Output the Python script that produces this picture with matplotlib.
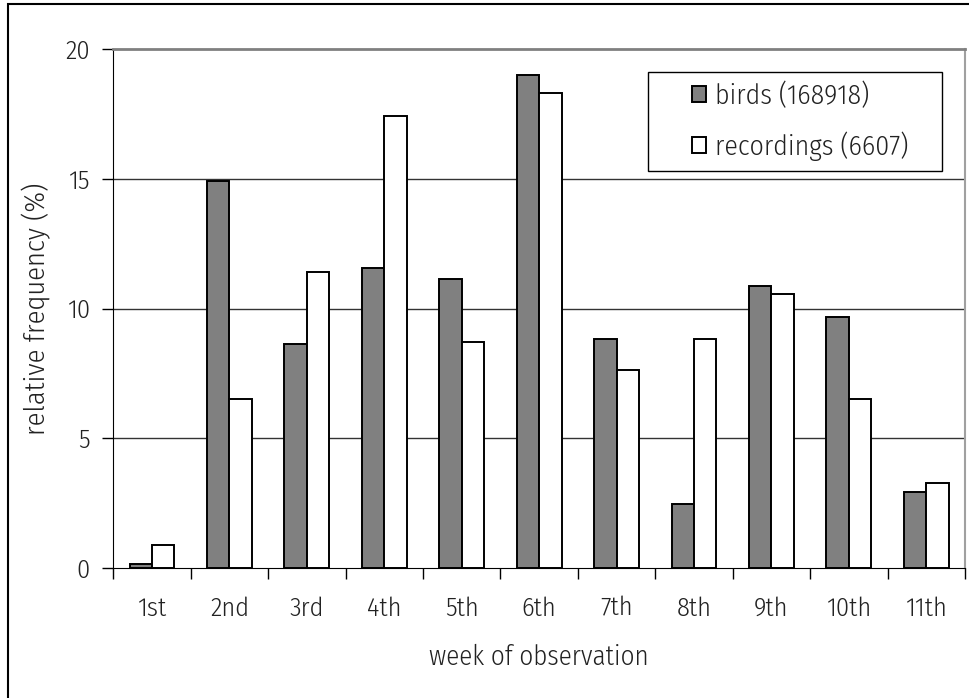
import numpy as np
import matplotlib.pyplot as plt
from matplotlib.patches import Rectangle

# weekly share of birds counted vs. recordings made
weeks = ['1st', '2nd', '3rd', '4th', '5th', '6th', '7th', '8th', '9th', '10th', '11th']
birds = [0.14, 14.93, 8.62, 11.56, 11.12, 18.98, 8.83, 2.46, 10.88, 9.68, 2.91]
recordings = [0.87, 6.51, 11.4, 17.4, 8.69, 18.32, 7.63, 8.83, 10.57, 6.51, 3.28]
yticks = [0, 5, 10, 15, 20]

plt.rcParams['font.family'] = ['Fira Sans Condensed', 'DejaVu Sans']
plt.rcParams['font.weight'] = 300
plt.rcParams['axes.labelweight'] = 300
plt.rcParams['font.size'] = 19
txt = '#222222'

W, H = 969, 698
fig = plt.figure(figsize=(W / 100, H / 100), dpi=100)
ax = fig.add_axes([113.3 / W, 130 / H, (965 - 113.3) / W, (568 - 49) / H])

x = np.arange(len(weeks))
w = 0.29
ax.bar(x - w / 2, birds, w, color='#808080', edgecolor='black', linewidth=1.4,
       label='birds (168918)', zorder=3)
ax.bar(x + w / 2, recordings, w, color='white', edgecolor='black', linewidth=1.4,
       label='recordings (6607)', zorder=3)

ax.set_xlim(-0.5, len(weeks) - 0.5)
ax.set_ylim(0, 20)
ax.set_yticks(yticks)
ax.set_yticklabels([str(v) for v in yticks], color=txt)
ax.tick_params(axis='y', direction='out', length=8, width=1, pad=9)

ax.set_xticks(x)
ax.set_xticklabels(weeks, color=txt)
ax.set_xticks(np.arange(len(weeks) + 1) - 0.5, minor=True)
ax.tick_params(axis='x', which='major', length=0, pad=20)
ax.tick_params(axis='x', which='minor', direction='out', length=8, width=1)

for v in yticks[1:-1]:
    ax.axhline(v, color='#333333', linewidth=1, zorder=1)

ax.spines['left'].set_color('black')
ax.spines['bottom'].set_color('black')
ax.spines['top'].set_color('#808080')
ax.spines['right'].set_color('#a0a0a0')
ax.spines['top'].set_linewidth(2)
ax.spines['right'].set_linewidth(1.5)

ax.set_ylabel('relative frequency (%)', color=txt, labelpad=10, fontsize=20.5)
ax.set_xlabel('week of observation', color=txt, labelpad=17, fontsize=19.5)

leg = ax.legend(loc='upper left', bbox_to_anchor=(692 / W, 1 - 82 / H),
                bbox_transform=fig.transFigure, frameon=False,
                handlelength=0.52, handleheight=0.52, handletextpad=0.3,
                borderpad=0, labelspacing=0.8, borderaxespad=0, fontsize=20)
for t in leg.get_texts():
    t.set_color(txt)

# legend box
fig.patches.append(Rectangle((648 / W, 1 - 171 / H), 294 / W, 99 / H,
                             transform=fig.transFigure, fill=False,
                             edgecolor='black', linewidth=1))

# outer chart frame
fig.patches.append(Rectangle((8 / W, -0.1), 1.2, (H - 4) / H + 0.1,
                             transform=fig.transFigure, fill=False,
                             edgecolor='black', linewidth=1.5))

fig.savefig('out.png', dpi=100)
